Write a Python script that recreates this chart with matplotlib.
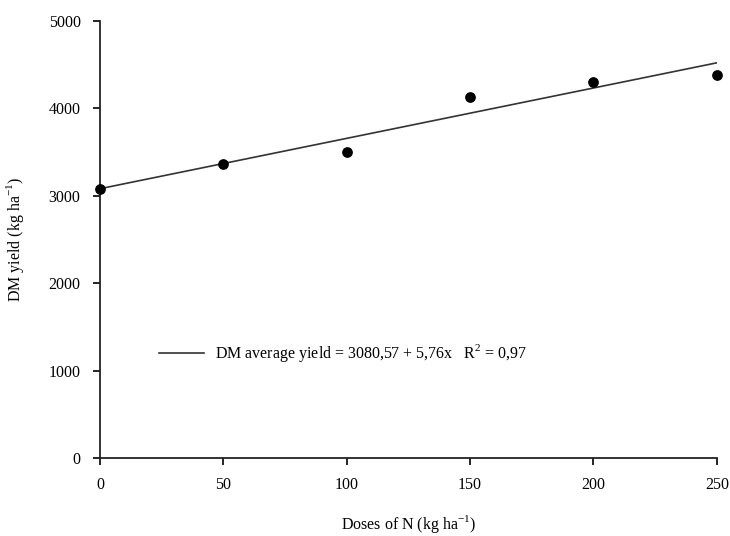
import matplotlib.pyplot as plt
import numpy as np

# N doses (kg/ha) and observed DM yield (kg/ha)
doses = [0, 50, 100, 150, 200, 250]
dm_yield = [3080, 3368, 3505, 4135, 4305, 4385]

# fitted regression
intercept = 3080.57
slope = 5.76

plt.rcParams['font.family'] = ['Liberation Serif', 'DejaVu Serif']
plt.rcParams['mathtext.fontset'] = 'custom'
plt.rcParams['mathtext.rm'] = 'Liberation Serif'

fig = plt.figure(figsize=(7.3, 5.36), dpi=100)
ax = fig.add_axes([0.137, 0.1455, 0.845, 0.8155])

xfit = np.array([0, 250])
ax.plot(xfit, intercept + slope*xfit, color='#333333', lw=1.2,
        label='DM average yield = 3080,57 + 5,76x   R$^{2}$ = 0,97')
ax.scatter(doses, dm_yield, color='black', s=45, zorder=3, clip_on=False)

ax.set_xlim(0, 250)
ax.set_ylim(0, 5000)
ax.set_xticks([0, 50, 100, 150, 200, 250])
ax.set_yticks([0, 1000, 2000, 3000, 4000, 5000])
ax.spines['top'].set_visible(False)
ax.spines['right'].set_visible(False)
for s in ['left', 'bottom']:
    ax.spines[s].set_linewidth(1.3)
    ax.spines[s].set_color('#222222')
ax.tick_params(direction='out', length=5, width=1.2, labelsize=11.5, pad=9)

ax.set_xlabel('Doses of N (kg ha$^{-1}$)', fontsize=11.5, labelpad=14)
ax.set_ylabel('DM yield (kg ha$^{-1}$)', fontsize=11.5, labelpad=16)

ax.legend(loc='center left', bbox_to_anchor=(0.072, 0.24), frameon=False,
          fontsize=11.5, handlelength=2.8, handletextpad=0.75)

fig.savefig('out.png', dpi=100)
